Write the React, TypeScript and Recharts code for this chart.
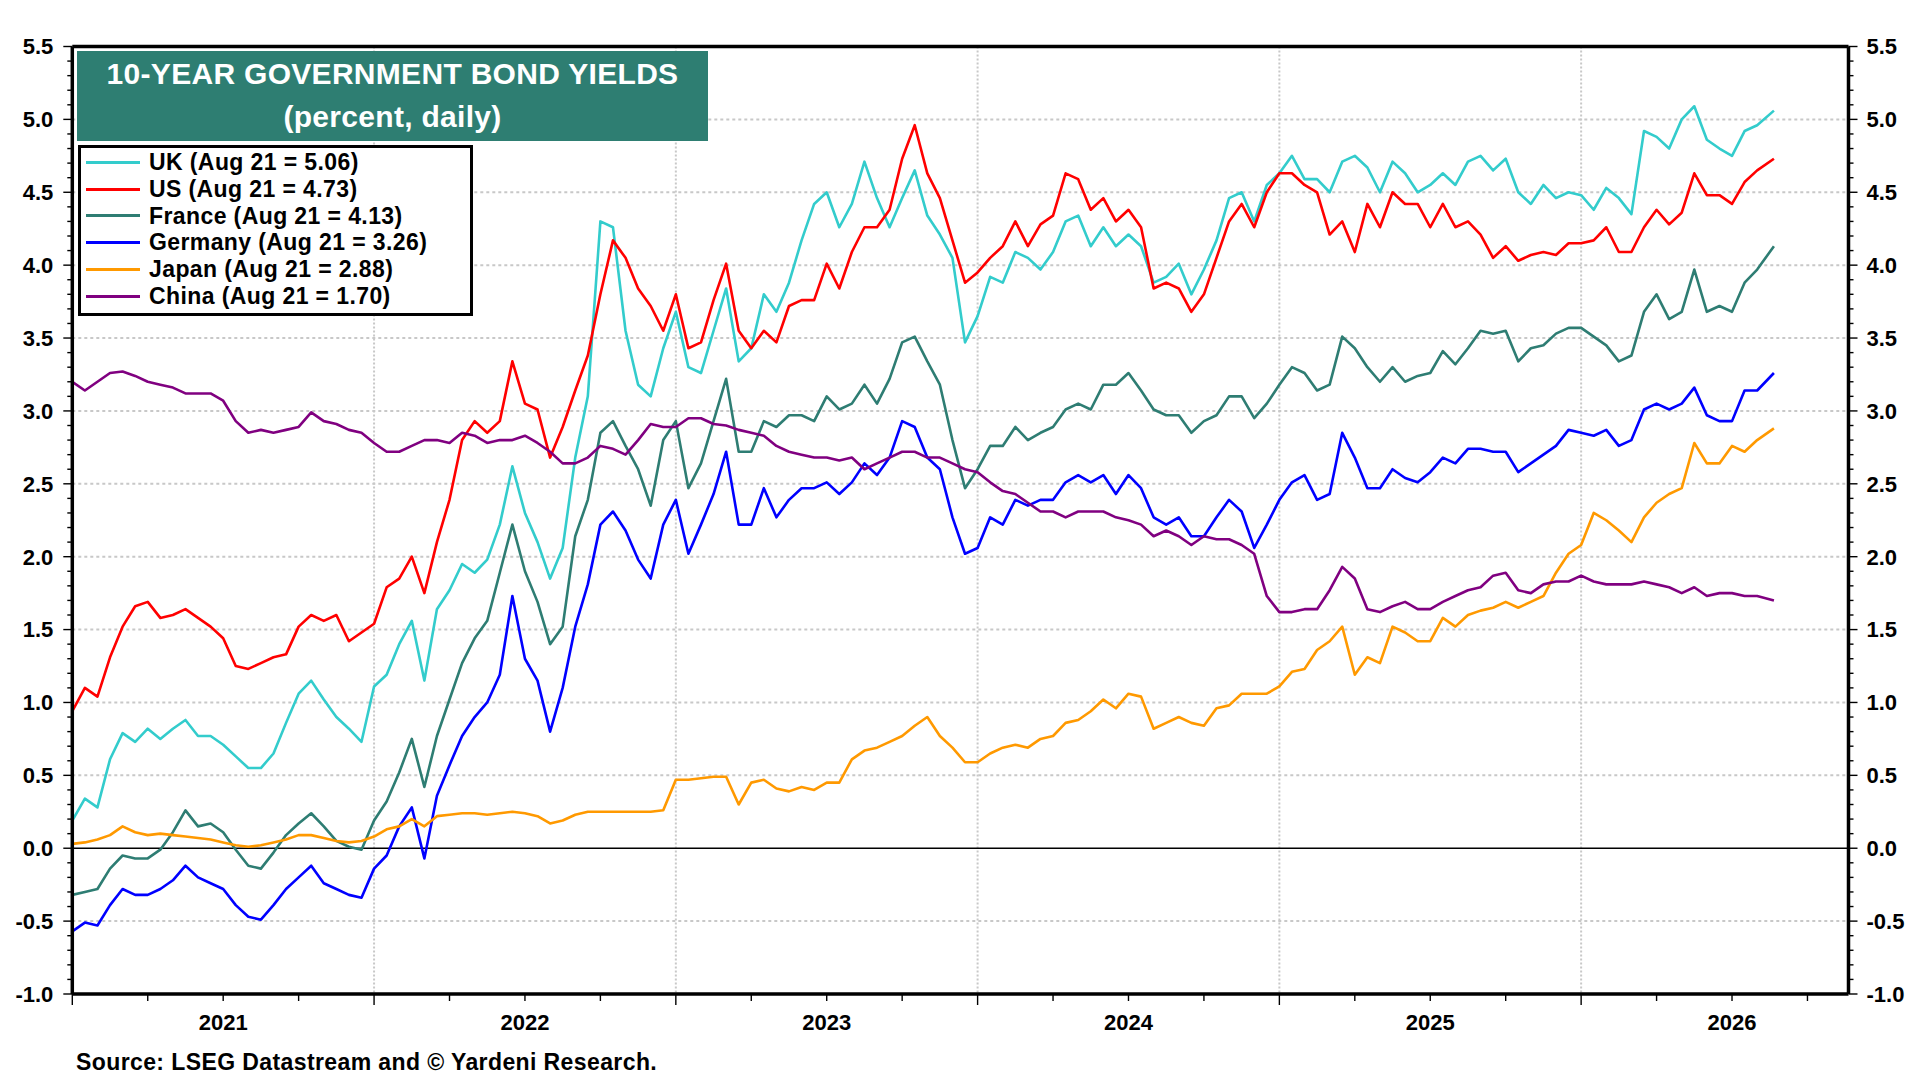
import React from 'react';
import { LineChart, Line, XAxis, YAxis, CartesianGrid, ReferenceLine, Legend } from 'recharts';

const FONT = '"Liberation Sans", Arial, Helvetica, sans-serif';

// Half-month observation dates: Jan 1 2021 ... Aug 16 2026, last observation Aug 21 2026
const dates: string[] = [];
for (let y = 2021; y <= 2026; y++) {
  for (let m = 1; m <= 12; m++) {
    if (y === 2026 && m > 8) continue;
    for (const d of [1, 16]) dates.push(`${y}-${String(m).padStart(2, '0')}-${String(d).padStart(2, '0')}`);
  }
}
dates[dates.length - 1] = '2026-08-21';

// 10-year government bond yields (percent)
const ukYield = [
  0.19, 0.34, 0.28, 0.61, 0.79, 0.73, 0.82, 0.75, 0.82, 0.88, 0.77, 0.77,
  0.71, 0.63, 0.55, 0.55, 0.65, 0.86, 1.06, 1.15, 1.02, 0.90, 0.82, 0.73,
  1.11, 1.19, 1.40, 1.56, 1.15, 1.64, 1.77, 1.95, 1.89, 1.98, 2.22, 2.62,
  2.30, 2.10, 1.85, 2.06, 2.68, 3.10, 4.30, 4.26, 3.55, 3.18, 3.10, 3.43,
  3.68, 3.30, 3.26, 3.55, 3.84, 3.34, 3.43, 3.80, 3.68, 3.88, 4.17, 4.42,
  4.50, 4.26, 4.42, 4.71, 4.46, 4.26, 4.46, 4.65, 4.34, 4.21, 4.05, 3.47,
  3.65, 3.92, 3.88, 4.09, 4.05, 3.97, 4.09, 4.30, 4.34, 4.13, 4.26, 4.13,
  4.21, 4.13, 3.88, 3.92, 4.01, 3.80, 3.97, 4.17, 4.46, 4.50, 4.30, 4.55,
  4.63, 4.75, 4.59, 4.59, 4.50, 4.71, 4.75, 4.67, 4.50, 4.71, 4.63, 4.50,
  4.55, 4.63, 4.55, 4.71, 4.75, 4.65, 4.73, 4.50, 4.42, 4.55, 4.46, 4.50,
  4.48, 4.38, 4.53, 4.46, 4.35, 4.92, 4.88, 4.80, 5.00, 5.09, 4.86, 4.80,
  4.75, 4.92, 4.96, 5.06,
];
const usYield = [
  0.94, 1.10, 1.04, 1.31, 1.52, 1.66, 1.69, 1.58, 1.60, 1.64, 1.58, 1.52,
  1.44, 1.25, 1.23, 1.27, 1.31, 1.33, 1.52, 1.60, 1.56, 1.60, 1.42, 1.48,
  1.54, 1.79, 1.85, 2.00, 1.75, 2.10, 2.39, 2.80, 2.93, 2.85, 2.93, 3.34,
  3.05, 3.01, 2.68, 2.89, 3.14, 3.38, 3.80, 4.17, 4.05, 3.84, 3.72, 3.55,
  3.80, 3.43, 3.47, 3.76, 4.01, 3.55, 3.43, 3.55, 3.47, 3.72, 3.76, 3.76,
  4.01, 3.84, 4.09, 4.26, 4.26, 4.38, 4.73, 4.96, 4.63, 4.46, 4.17, 3.88,
  3.95, 4.05, 4.13, 4.30, 4.13, 4.28, 4.34, 4.63, 4.59, 4.38, 4.46, 4.30,
  4.38, 4.26, 3.84, 3.88, 3.84, 3.68, 3.80, 4.05, 4.30, 4.42, 4.26, 4.50,
  4.63, 4.63, 4.55, 4.50, 4.21, 4.30, 4.09, 4.42, 4.26, 4.50, 4.42, 4.42,
  4.26, 4.42, 4.26, 4.30, 4.21, 4.05, 4.13, 4.03, 4.07, 4.09, 4.07, 4.15,
  4.15, 4.17, 4.26, 4.09, 4.09, 4.26, 4.38, 4.28, 4.36, 4.63, 4.48, 4.48,
  4.42, 4.57, 4.65, 4.73,
];
const franceYield = [
  -0.32, -0.30, -0.28, -0.14, -0.05, -0.07, -0.07, -0.01, 0.11, 0.26, 0.15, 0.17,
  0.11, -0.01, -0.12, -0.14, -0.03, 0.09, 0.17, 0.24, 0.15, 0.05, 0.01, -0.01,
  0.19, 0.32, 0.52, 0.75, 0.42, 0.77, 1.02, 1.27, 1.44, 1.56, 1.89, 2.22,
  1.90, 1.69, 1.40, 1.52, 2.14, 2.39, 2.85, 2.93, 2.76, 2.60, 2.35, 2.80,
  2.93, 2.47, 2.64, 2.93, 3.22, 2.72, 2.72, 2.93, 2.89, 2.97, 2.97, 2.93,
  3.10, 3.01, 3.05, 3.18, 3.05, 3.22, 3.47, 3.51, 3.34, 3.18, 2.80, 2.47,
  2.60, 2.76, 2.76, 2.89, 2.80, 2.85, 2.89, 3.01, 3.05, 3.01, 3.18, 3.18,
  3.26, 3.14, 3.01, 2.97, 2.97, 2.85, 2.93, 2.97, 3.10, 3.10, 2.95, 3.05,
  3.18, 3.30, 3.26, 3.14, 3.18, 3.51, 3.43, 3.30, 3.20, 3.30, 3.20, 3.24,
  3.26, 3.41, 3.32, 3.43, 3.55, 3.53, 3.55, 3.34, 3.43, 3.45, 3.53, 3.57,
  3.57, 3.51, 3.45, 3.34, 3.38, 3.68, 3.80, 3.63, 3.68, 3.97, 3.68, 3.72,
  3.68, 3.88, 3.97, 4.13,
];
const germanyYield = [
  -0.57, -0.51, -0.53, -0.39, -0.28, -0.32, -0.32, -0.28, -0.22, -0.12, -0.20, -0.24,
  -0.28, -0.39, -0.47, -0.49, -0.39, -0.28, -0.20, -0.12, -0.24, -0.28, -0.32, -0.34,
  -0.14, -0.05, 0.15, 0.28, -0.07, 0.36, 0.57, 0.77, 0.90, 1.00, 1.19, 1.73,
  1.30, 1.15, 0.80, 1.10, 1.52, 1.81, 2.22, 2.31, 2.18, 1.98, 1.85, 2.22,
  2.39, 2.02, 2.22, 2.43, 2.72, 2.22, 2.22, 2.47, 2.27, 2.39, 2.47, 2.47,
  2.51, 2.43, 2.51, 2.64, 2.56, 2.68, 2.93, 2.89, 2.68, 2.60, 2.27, 2.02,
  2.06, 2.27, 2.22, 2.39, 2.35, 2.39, 2.39, 2.51, 2.56, 2.51, 2.56, 2.43,
  2.56, 2.47, 2.27, 2.22, 2.27, 2.14, 2.14, 2.27, 2.39, 2.31, 2.06, 2.22,
  2.39, 2.51, 2.56, 2.39, 2.43, 2.85, 2.68, 2.47, 2.47, 2.60, 2.54, 2.51,
  2.58, 2.68, 2.64, 2.74, 2.74, 2.72, 2.72, 2.58, 2.64, 2.70, 2.76, 2.87,
  2.85, 2.83, 2.87, 2.76, 2.80, 3.01, 3.05, 3.01, 3.05, 3.16, 2.97, 2.93,
  2.93, 3.14, 3.14, 3.26,
];
const japanYield = [
  0.03, 0.04, 0.06, 0.09, 0.15, 0.11, 0.09, 0.10, 0.09, 0.08, 0.07, 0.06,
  0.04, 0.02, 0.01, 0.02, 0.04, 0.06, 0.09, 0.09, 0.07, 0.05, 0.04, 0.05,
  0.08, 0.13, 0.15, 0.20, 0.15, 0.22, 0.23, 0.24, 0.24, 0.23, 0.24, 0.25,
  0.24, 0.22, 0.17, 0.19, 0.23, 0.25, 0.25, 0.25, 0.25, 0.25, 0.25, 0.26,
  0.47, 0.47, 0.48, 0.49, 0.49, 0.30, 0.45, 0.47, 0.41, 0.39, 0.42, 0.40,
  0.45, 0.45, 0.61, 0.67, 0.69, 0.73, 0.77, 0.84, 0.90, 0.77, 0.69, 0.59,
  0.59, 0.65, 0.69, 0.71, 0.69, 0.75, 0.77, 0.86, 0.88, 0.94, 1.02, 0.96,
  1.06, 1.04, 0.82, 0.86, 0.90, 0.86, 0.84, 0.96, 0.98, 1.06, 1.06, 1.06,
  1.11, 1.21, 1.23, 1.36, 1.42, 1.52, 1.19, 1.31, 1.27, 1.52, 1.48, 1.42,
  1.42, 1.58, 1.52, 1.60, 1.63, 1.65, 1.69, 1.65, 1.69, 1.73, 1.89, 2.02,
  2.08, 2.30, 2.25, 2.18, 2.10, 2.27, 2.37, 2.43, 2.47, 2.78, 2.64, 2.64,
  2.76, 2.72, 2.80, 2.88,
];
const chinaYield = [
  3.20, 3.14, 3.20, 3.26, 3.27, 3.24, 3.20, 3.18, 3.16, 3.12, 3.12, 3.12,
  3.07, 2.93, 2.85, 2.87, 2.85, 2.87, 2.89, 2.99, 2.93, 2.91, 2.87, 2.85,
  2.78, 2.72, 2.72, 2.76, 2.80, 2.80, 2.78, 2.85, 2.83, 2.78, 2.80, 2.80,
  2.83, 2.78, 2.72, 2.64, 2.64, 2.68, 2.76, 2.74, 2.70, 2.80, 2.91, 2.89,
  2.89, 2.95, 2.95, 2.91, 2.90, 2.87, 2.85, 2.83, 2.76, 2.72, 2.70, 2.68,
  2.68, 2.66, 2.68, 2.60, 2.64, 2.68, 2.72, 2.72, 2.68, 2.68, 2.64, 2.60,
  2.58, 2.51, 2.45, 2.43, 2.37, 2.31, 2.31, 2.27, 2.31, 2.31, 2.31, 2.27,
  2.25, 2.22, 2.14, 2.18, 2.14, 2.08, 2.14, 2.12, 2.12, 2.08, 2.02, 1.73,
  1.62, 1.62, 1.64, 1.64, 1.77, 1.93, 1.85, 1.64, 1.62, 1.66, 1.69, 1.64,
  1.64, 1.69, 1.73, 1.77, 1.79, 1.87, 1.89, 1.77, 1.75, 1.81, 1.83, 1.83,
  1.87, 1.83, 1.81, 1.81, 1.81, 1.83, 1.81, 1.79, 1.75, 1.79, 1.73, 1.75,
  1.75, 1.73, 1.73, 1.70,
];

const latestLabel = 'Aug 21';
const seriesDefs = [
  { key: 'uk', name: 'UK', color: '#33CCCC', values: ukYield },
  { key: 'us', name: 'US', color: '#FF0000', values: usYield },
  { key: 'fr', name: 'France', color: '#2E7D73', values: franceYield },
  { key: 'de', name: 'Germany', color: '#0000FF', values: germanyYield },
  { key: 'jp', name: 'Japan', color: '#FF9900', values: japanYield },
  { key: 'cn', name: 'China', color: '#800080', values: chinaYield },
];

// Axis definitions
const yearLabels = [2021, 2022, 2023, 2024, 2025, 2026];
const yearBoundaries = [2022, 2023, 2024, 2025, 2026];
const yGridValues = [-0.5, 0.5, 1.0, 1.5, 2.0, 2.5, 3.0, 3.5, 4.0, 4.5, 5.0];
const Y_DOMAIN: [number, number] = [-1, 5.5];
const X_DOMAIN: [number, number] = [2021, 2026.886];

const yAllTicks: number[] = [];
for (let k = -10; k <= 55; k++) yAllTicks.push(k / 10);
const xQuarterTicks: number[] = [];
for (let y = yearLabels[0]; y <= yearLabels[yearLabels.length - 1]; y++) {
  for (let q = 0; q < 4; q++) xQuarterTicks.push(y + q / 4);
}

const toYear = (d: string) => {
  const [y, m, day] = d.split('-').map(Number);
  return y + (m - 1) / 12 + ((day - 1) / 30) / 12;
};

const data = dates.map((d, i) => {
  const row: Record<string, number | string> = { date: d, t: toYear(d) };
  seriesDefs.forEach((s) => {
    row[s.key] = s.values[i];
  });
  return row;
});

const labelStyle = { fontFamily: FONT, fontWeight: 700, fontSize: 22, fill: '#000' };

const YTickLeft = (props: any) => {
  const { x, y, payload } = props;
  const k = Math.round(payload.value * 10);
  const major = k % 5 === 0;
  return (
    <g>
      <line x1={x - (major ? 9 : 5)} x2={x} y1={y} y2={y} stroke="#000" strokeWidth={1.4} />
      {major && (
        <text x={x - 19} y={y} dy="0.36em" textAnchor="end" style={labelStyle}>
          {(k / 10).toFixed(1)}
        </text>
      )}
    </g>
  );
};

const YTickRight = (props: any) => {
  const { x, y, payload } = props;
  const k = Math.round(payload.value * 10);
  const major = k % 5 === 0;
  return (
    <g>
      <line x1={x} x2={x + (major ? 9 : 5)} y1={y} y2={y} stroke="#000" strokeWidth={1.4} />
      {major && (
        <text x={x + 18} y={y} dy="0.36em" textAnchor="start" style={labelStyle}>
          {(k / 10).toFixed(1)}
        </text>
      )}
    </g>
  );
};

const XTick = (props: any) => {
  const { x, y, payload } = props;
  const v = payload.value;
  const q = Math.round(v * 4) % 4;
  return (
    <g>
      <line x1={x} x2={x} y1={y} y2={y + (q === 0 ? 11 : 7)} stroke="#000" strokeWidth={1.4} />
      {q === 2 && (
        <text x={x} y={y + 28} dy="0.36em" textAnchor="middle" style={labelStyle}>
          {Math.floor(v)}
        </text>
      )}
    </g>
  );
};

const LegendBox = (props: any) => {
  const payload = [...(props.payload || [])].sort(
    (a: any, b: any) =>
      seriesDefs.findIndex((s) => s.key === a.dataKey) - seriesDefs.findIndex((s) => s.key === b.dataKey)
  );
  return (
    <div
      style={{
        boxSizing: 'border-box',
        width: 395,
        height: 171,
        border: '3px solid #000',
        background: '#fff',
        paddingTop: 1,
        fontFamily: FONT,
      }}
    >
      {payload.map((e: any) => (
        <div key={e.value} style={{ display: 'flex', alignItems: 'center', height: 26.8 }}>
          <div style={{ marginLeft: 5, width: 54, height: 3, background: e.color }} />
          <span
            style={{
              marginLeft: 9,
              fontSize: 23,
              letterSpacing: 0.4,
              fontWeight: 700,
              color: '#000',
              whiteSpace: 'nowrap',
              lineHeight: '27px',
            }}
          >
            {e.value}
          </span>
        </div>
      ))}
    </div>
  );
};

export default function App() {
  return (
    <div style={{ position: 'absolute', left: 0, top: 0, width: 1920, height: 1080, background: '#fff' }}>
      <LineChart
        width={1920}
        height={1080}
        data={data}
        margin={{ top: 46.5, right: 11.5, bottom: 56, left: 12.3 }}
      >
        <CartesianGrid
          horizontal={true}
          vertical={false}
          horizontalValues={yGridValues}
          stroke="#c8c8c8"
          strokeWidth={2}
          strokeDasharray="3 3"
        />
        <CartesianGrid
          horizontal={false}
          vertical={true}
          verticalValues={yearBoundaries}
          stroke="#c8c8c8"
          strokeWidth={2}
          strokeDasharray="2 2"
        />
        <XAxis
          dataKey="t"
          type="number"
          domain={X_DOMAIN}
          allowDataOverflow
          ticks={xQuarterTicks}
          interval={0}
          tickSize={0}
          tickMargin={0}
          tickLine={false}
          tick={<XTick />}
          height={30}
          axisLine={{ stroke: '#000', strokeWidth: 3.5 }}
        />
        <YAxis
          yAxisId={0}
          type="number"
          domain={Y_DOMAIN}
          allowDataOverflow
          ticks={yAllTicks}
          interval={0}
          tickSize={0}
          tickMargin={0}
          tickLine={false}
          tick={<YTickLeft />}
          width={60}
          axisLine={{ stroke: '#000', strokeWidth: 3.5 }}
        />
        <YAxis
          yAxisId="right"
          orientation="right"
          type="number"
          domain={Y_DOMAIN}
          allowDataOverflow
          ticks={yAllTicks}
          interval={0}
          tickSize={0}
          tickMargin={0}
          tickLine={false}
          tick={<YTickRight />}
          width={60}
          axisLine={{ stroke: '#000', strokeWidth: 3.5 }}
        />
        <ReferenceLine y={0} stroke="#000" strokeWidth={1.3} />
        <ReferenceLine y={Y_DOMAIN[1]} stroke="#000" strokeWidth={3.5} />
        {seriesDefs.map((s) => (
          <Line
            key={s.key}
            type="linear"
            dataKey={s.key}
            name={`${s.name} (${latestLabel} = ${s.values[s.values.length - 1].toFixed(2)})`}
            stroke={s.color}
            strokeWidth={2.6}
            strokeLinejoin="round"
            dot={false}
            activeDot={false}
            isAnimationActive={false}
          />
        ))}
        <Legend
          layout="vertical"
          align="center"
          verticalAlign="middle"
          content={<LegendBox />}
          wrapperStyle={{ left: 78, top: 145, width: 395, height: 171 }}
        />
      </LineChart>
      <div
        style={{
          position: 'absolute',
          left: 77,
          top: 51,
          width: 631,
          height: 90,
          boxSizing: 'border-box',
          paddingTop: 1,
          background: '#2E7E72',
          color: '#fff',
          fontFamily: FONT,
          fontWeight: 700,
          fontSize: 30,
          letterSpacing: 0.3,
          lineHeight: '43px',
          textAlign: 'center',
        }}
      >
        <div>10-YEAR GOVERNMENT BOND YIELDS</div>
        <div>(percent, daily)</div>
      </div>
      <div
        style={{
          position: 'absolute',
          left: 76,
          top: 1049,
          fontFamily: FONT,
          fontWeight: 700,
          fontSize: 23,
          letterSpacing: 0.4,
          lineHeight: '26px',
          color: '#000',
          whiteSpace: 'nowrap',
        }}
      >
        Source: LSEG Datastream and © Yardeni Research.
      </div>
    </div>
  );
}
